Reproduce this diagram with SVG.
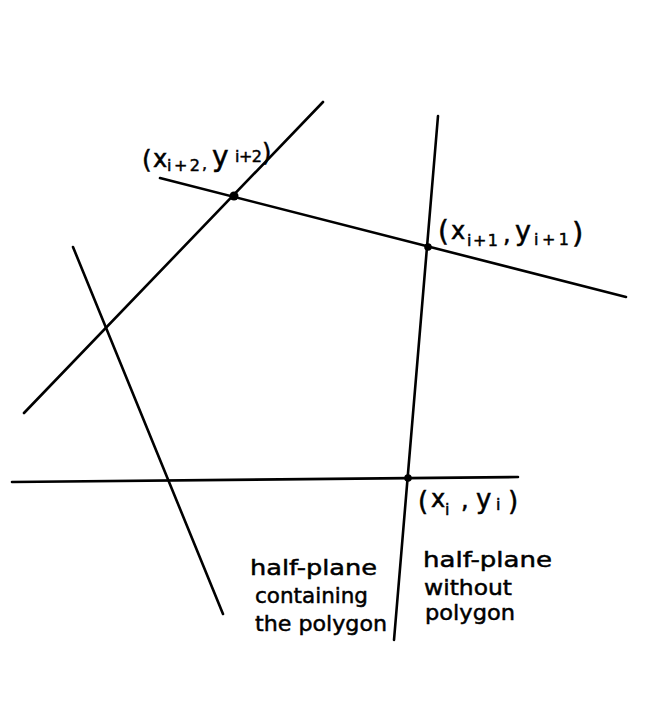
<svg xmlns="http://www.w3.org/2000/svg" width="655" height="713" viewBox="0 0 655 713">
<style>
.ln{stroke:#000;stroke-width:2.6;stroke-linecap:round;fill:none}
.dot{fill:#000}
text{font-family:"DejaVu Sans","Liberation Sans",sans-serif;fill:#000;stroke:#000;stroke-width:0.5}
.lab{font-size:24px}
.sub{font-size:16px}
.note{font-size:22px}
</style>
<rect width="655" height="713" fill="#fff"/>
<g id="connectors">
<line class="ln" x1="24" y1="413" x2="323" y2="102"/>
<line class="ln" x1="160" y1="178" x2="626" y2="297"/>
<line class="ln" x1="438" y1="116" x2="394" y2="640"/>
<line class="ln" x1="73" y1="247" x2="223" y2="614"/>
<line class="ln" x1="12" y1="482" x2="518" y2="477"/>
</g>
<g id="p_i2">
<circle class="dot" cx="234" cy="196" r="4.5"/>
<text class="lab"><tspan x="142" y="168" font-size="25">(</tspan><tspan x="153" y="167">x</tspan><tspan class="sub" x="167" y="171" textLength="33">i+2</tspan><tspan x="202" y="169" font-size="16">,</tspan><tspan x="212" y="166" font-size="28">y</tspan><tspan class="sub" x="235" y="162" textLength="27">i+2</tspan><tspan x="262" y="161" font-size="24">)</tspan></text>
</g>
<g id="p_i1">
<circle class="dot" cx="428" cy="247" r="3.8"/>
<text class="lab"><tspan x="438" y="241" font-size="28">(</tspan><tspan x="451" y="239">x</tspan><tspan class="sub" x="467" y="246" textLength="31">i+1</tspan><tspan x="503" y="242">,</tspan><tspan x="515" y="240" font-size="27">y</tspan><tspan class="sub" x="534" y="245" textLength="35">i+1</tspan><tspan x="572" y="243" font-size="29">)</tspan></text>
</g>
<g id="p_i">
<circle class="dot" cx="408" cy="478" r="3.8"/>
<text class="lab"><tspan x="418" y="510" font-size="26">(</tspan><tspan x="431" y="507">x</tspan><tspan class="sub" x="445" y="515">i</tspan><tspan x="461" y="508">,</tspan><tspan x="476" y="508" font-size="26">y</tspan><tspan class="sub" x="496" y="510">i</tspan><tspan x="508" y="510" font-size="26">)</tspan></text>
</g>
<g id="inside">
<text class="note" x="250" y="575" textLength="127" lengthAdjust="spacingAndGlyphs">half-plane</text>
<text class="note" x="255" y="603" textLength="113" lengthAdjust="spacingAndGlyphs">containing</text>
<text class="note" x="255" y="631" textLength="132" lengthAdjust="spacingAndGlyphs">the polygon</text>
</g>
<g id="outside">
<text class="note" x="423" y="567" textLength="129" lengthAdjust="spacingAndGlyphs">half-plane</text>
<text class="note" x="424" y="595" textLength="88" lengthAdjust="spacingAndGlyphs">without</text>
<text class="note" x="425" y="620" textLength="90" lengthAdjust="spacingAndGlyphs">polygon</text>
</g>
</svg>
